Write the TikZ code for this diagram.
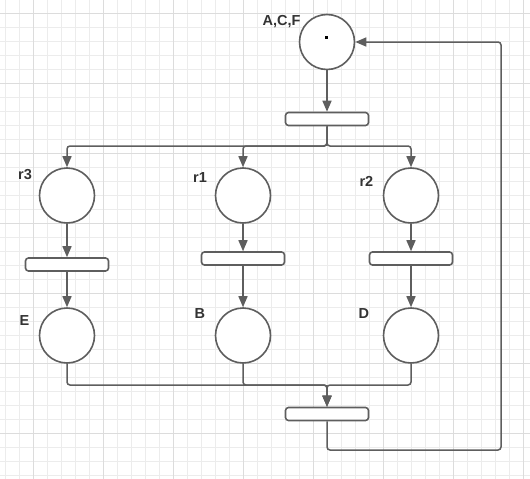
\documentclass[tikz,border=0pt]{standalone}
\usepackage{fontspec}
\setmainfont{Liberation Sans}
\usetikzlibrary{arrows.meta}
\definecolor{linec}{HTML}{5E5E5E}
\definecolor{labc}{HTML}{333333}
\definecolor{gridminor}{HTML}{ECECEC}
\definecolor{gridmajor}{HTML}{DCDCDC}
\begin{document}
\begin{tikzpicture}[x=1pt,y=-1pt,
  place/.style={circle, draw=linec, line width=1.6pt, fill=white, minimum size=55pt, inner sep=0pt},
  trans/.style={rectangle, rounded corners=3pt, draw=linec, line width=1.6pt, fill=white, minimum width=83pt, minimum height=13pt, inner sep=0pt},
  lbl/.style={font=\fontsize{14.5}{16}\selectfont\bfseries, text=labc, inner sep=0pt, anchor=base west},
  conn/.style={draw=linec, line width=1.5pt, rounded corners=3pt},
  arr/.style={conn, -{Triangle[length=11pt,width=9pt]}},
  gminor/.style={draw=gridminor, line width=1pt},
  gmajor/.style={draw=gridmajor, line width=1.2pt}
]
\useasboundingbox (0,0) rectangle (530,479);
\fill[white] (0,0) rectangle (530,479);
% grid
\foreach \i in {0,...,37} { \draw[gminor] (5.3+14*\i,0) -- (5.3+14*\i,479); }
\foreach \i in {0,...,33} { \draw[gminor] (0,13.3+14*\i) -- (530,13.3+14*\i); }
\foreach \j in {0,...,7} { \draw[gmajor] (33.3+70*\j,0) -- (33.3+70*\j,479); }
\foreach \j in {0,...,6} { \draw[gmajor] (0,13.3+70*\j) -- (530,13.3+70*\j); }

% places
\node[place] (P0) at (327,42) {};
\node[place] (R3) at (67,195.5) {};
\node[place] (R1) at (243,195.5) {};
\node[place] (R2) at (411,195.5) {};
\node[place] (E) at (67,335.5) {};
\node[place] (B) at (243,335.5) {};
\node[place] (D) at (411,335.5) {};
\node[fill=black, minimum size=3.5pt, inner sep=0pt] (tok) at (326.5,37.5) {};

% transitions
\node[trans] (T0) at (327,119) {};
\node[trans] (T3) at (67,264.5) {};
\node[trans] (T1) at (243,258.5) {};
\node[trans] (T2) at (411,258.5) {};
\node[trans] (TB) at (327,414) {};

% labels
\node[lbl] (lACF) at (262.5,25) {A,C,F};
\node[lbl] (lr3) at (18,179.3) {r3};
\node[lbl] (lr1) at (193,182.3) {r1};
\node[lbl] (lr2) at (359.3,186.5) {r2};
\node[lbl] (lE) at (19.5,325) {E};
\node[lbl] (lB) at (194.5,318.4) {B};
\node[lbl] (lD) at (358.5,318.4) {D};

% connectors
\coordinate (b0) at (327,146);
\coordinate (j0) at (327,385);
\coordinate (c1) at (501,450);

\draw[arr] (P0.south) -- (T0.north);
\draw[arr] (T0.south) -- (b0) -| (R3.north);
\draw[arr] (T0.south) -- (b0) -| (R1.north);
\draw[arr] (T0.south) -- (b0) -| (R2.north);

\draw[arr] (R3.south) -- (T3.north);
\draw[arr] (R1.south) -- (T1.north);
\draw[arr] (R2.south) -- (T2.north);

\draw[arr] (T3.south) -- (E.north);
\draw[arr] (T1.south) -- (B.north);
\draw[arr] (T2.south) -- (D.north);

\draw[arr] (E.south) |- (j0) -- (TB.north);
\draw[arr] (B.south) |- (j0) -- (TB.north);
\draw[arr] (D.south) |- (j0) -- (TB.north);

\draw[arr] (TB.south) |- (c1) |- (P0.east);
\end{tikzpicture}
\end{document}
